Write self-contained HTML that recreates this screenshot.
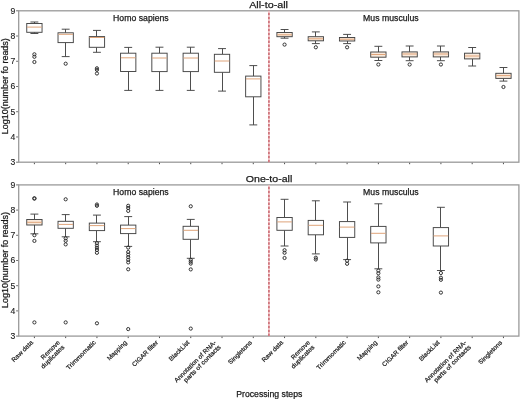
<!DOCTYPE html>
<html><head><meta charset="utf-8"><style>
html,body{margin:0;padding:0;background:#fff;width:520px;height:399px;overflow:hidden}
svg{display:block}
</style></head><body>
<svg width="520" height="399" viewBox="0 0 520 399">
<style>
text{font-family:"Liberation Sans",sans-serif;fill:#1a1a1a;stroke:#1a1a1a;stroke-width:0.25px}
.yt{font-size:8.6px;stroke-width:0.12px}
.xt{font-size:6.25px;stroke-width:0.2px}
.lab{font-size:8.3px}
.tit{font-size:9.95px}
</style>
<defs><filter id="gs" x="0" y="0" width="520" height="399" filterUnits="userSpaceOnUse" color-interpolation-filters="sRGB"><feColorMatrix type="saturate" values="0"/></filter></defs>
<rect width="520" height="399" fill="#fff"/>
<path d="M34.40 162.20v2.0" stroke="#222" stroke-width="0.8"/>
<path d="M65.67 162.20v2.0" stroke="#222" stroke-width="0.8"/>
<path d="M96.94 162.20v2.0" stroke="#222" stroke-width="0.8"/>
<path d="M128.21 162.20v2.0" stroke="#222" stroke-width="0.8"/>
<path d="M159.48 162.20v2.0" stroke="#222" stroke-width="0.8"/>
<path d="M190.75 162.20v2.0" stroke="#222" stroke-width="0.8"/>
<path d="M222.02 162.20v2.0" stroke="#222" stroke-width="0.8"/>
<path d="M253.29 162.20v2.0" stroke="#222" stroke-width="0.8"/>
<path d="M284.56 162.20v2.0" stroke="#222" stroke-width="0.8"/>
<path d="M315.83 162.20v2.0" stroke="#222" stroke-width="0.8"/>
<path d="M347.10 162.20v2.0" stroke="#222" stroke-width="0.8"/>
<path d="M378.37 162.20v2.0" stroke="#222" stroke-width="0.8"/>
<path d="M409.64 162.20v2.0" stroke="#222" stroke-width="0.8"/>
<path d="M440.91 162.20v2.0" stroke="#222" stroke-width="0.8"/>
<path d="M472.18 162.20v2.0" stroke="#222" stroke-width="0.8"/>
<path d="M503.45 162.20v2.0" stroke="#222" stroke-width="0.8"/>
<path d="M18.70 10.80h-2.6" stroke="#333" stroke-width="0.7"/>
<path d="M18.70 36.03h-2.6" stroke="#333" stroke-width="0.7"/>
<path d="M18.70 61.27h-2.6" stroke="#333" stroke-width="0.7"/>
<path d="M18.70 86.50h-2.6" stroke="#333" stroke-width="0.7"/>
<path d="M18.70 111.73h-2.6" stroke="#333" stroke-width="0.7"/>
<path d="M18.70 136.97h-2.6" stroke="#333" stroke-width="0.7"/>
<path d="M18.70 162.20h-2.6" stroke="#333" stroke-width="0.7"/>
<rect x="18.70" y="10.80" width="500.20" height="151.40" fill="none" stroke="#9a9a9a" stroke-width="1.3"/>
<path d="M34.40 336.10v2.0" stroke="#222" stroke-width="0.8"/>
<path d="M65.67 336.10v2.0" stroke="#222" stroke-width="0.8"/>
<path d="M96.94 336.10v2.0" stroke="#222" stroke-width="0.8"/>
<path d="M128.21 336.10v2.0" stroke="#222" stroke-width="0.8"/>
<path d="M159.48 336.10v2.0" stroke="#222" stroke-width="0.8"/>
<path d="M190.75 336.10v2.0" stroke="#222" stroke-width="0.8"/>
<path d="M222.02 336.10v2.0" stroke="#222" stroke-width="0.8"/>
<path d="M253.29 336.10v2.0" stroke="#222" stroke-width="0.8"/>
<path d="M284.56 336.10v2.0" stroke="#222" stroke-width="0.8"/>
<path d="M315.83 336.10v2.0" stroke="#222" stroke-width="0.8"/>
<path d="M347.10 336.10v2.0" stroke="#222" stroke-width="0.8"/>
<path d="M378.37 336.10v2.0" stroke="#222" stroke-width="0.8"/>
<path d="M409.64 336.10v2.0" stroke="#222" stroke-width="0.8"/>
<path d="M440.91 336.10v2.0" stroke="#222" stroke-width="0.8"/>
<path d="M472.18 336.10v2.0" stroke="#222" stroke-width="0.8"/>
<path d="M503.45 336.10v2.0" stroke="#222" stroke-width="0.8"/>
<path d="M18.70 184.90h-2.6" stroke="#333" stroke-width="0.7"/>
<path d="M18.70 210.10h-2.6" stroke="#333" stroke-width="0.7"/>
<path d="M18.70 235.30h-2.6" stroke="#333" stroke-width="0.7"/>
<path d="M18.70 260.50h-2.6" stroke="#333" stroke-width="0.7"/>
<path d="M18.70 285.70h-2.6" stroke="#333" stroke-width="0.7"/>
<path d="M18.70 310.90h-2.6" stroke="#333" stroke-width="0.7"/>
<path d="M18.70 336.10h-2.6" stroke="#333" stroke-width="0.7"/>
<rect x="18.70" y="184.90" width="500.20" height="151.20" fill="none" stroke="#9a9a9a" stroke-width="1.3"/>
<path d="M268.93 162.20V10.80" stroke="#f6d4d6" stroke-width="1.8"/><path d="M268.93 162.20V10.80" stroke="#c4555f" stroke-width="1.5" stroke-dasharray="2.5 1.47" opacity="0.9"/>
<path d="M268.93 336.10V184.90" stroke="#f6d4d6" stroke-width="1.8"/><path d="M268.93 336.10V184.90" stroke="#c4555f" stroke-width="1.5" stroke-dasharray="2.5 1.47" opacity="0.9"/>
<path d="M34.50 23.50V22.00M30.45 22.00H38.35M34.50 32.30V33.50M30.45 33.50H38.35" stroke="#444" stroke-width="0.95" fill="none"/>
<rect x="26.75" y="23.50" width="15.30" height="8.80" stroke="#444" stroke-width="0.95" fill="#fff"/>
<path d="M27.05 27.10H41.75" stroke="#dfa47a" stroke-width="1.0"/>
<circle cx="34.40" cy="54.30" r="1.6" stroke="#2a2a2a" stroke-width="0.95" fill="none"/>
<circle cx="34.40" cy="56.80" r="1.6" stroke="#2a2a2a" stroke-width="0.95" fill="none"/>
<circle cx="34.40" cy="62.00" r="1.6" stroke="#2a2a2a" stroke-width="0.95" fill="none"/>
<path d="M65.50 32.80V29.20M61.72 29.20H69.62M65.50 42.60V56.60M61.72 56.60H69.62" stroke="#444" stroke-width="0.95" fill="none"/>
<rect x="58.02" y="32.80" width="15.30" height="9.80" stroke="#444" stroke-width="0.95" fill="#fff"/>
<path d="M58.32 34.30H73.02" stroke="#dfa47a" stroke-width="1.0"/>
<circle cx="65.67" cy="63.70" r="1.6" stroke="#2a2a2a" stroke-width="0.95" fill="none"/>
<path d="M96.50 36.60V30.40M92.99 30.40H100.89M96.50 47.30V52.30M92.99 52.30H100.89" stroke="#444" stroke-width="0.95" fill="none"/>
<rect x="89.29" y="36.60" width="15.30" height="10.70" stroke="#444" stroke-width="0.95" fill="#fff"/>
<path d="M89.59 37.50H104.29" stroke="#dfa47a" stroke-width="1.0"/>
<circle cx="96.94" cy="68.30" r="1.6" stroke="#2a2a2a" stroke-width="0.95" fill="none"/>
<circle cx="96.94" cy="69.80" r="1.6" stroke="#2a2a2a" stroke-width="0.95" fill="none"/>
<circle cx="96.94" cy="73.50" r="1.6" stroke="#2a2a2a" stroke-width="0.95" fill="none"/>
<path d="M128.50 53.20V47.40M124.26 47.40H132.16M128.50 71.50V90.40M124.26 90.40H132.16" stroke="#444" stroke-width="0.95" fill="none"/>
<rect x="120.56" y="53.20" width="15.30" height="18.30" stroke="#444" stroke-width="0.95" fill="#fff"/>
<path d="M120.86 57.80H135.56" stroke="#dfa47a" stroke-width="1.0"/>
<path d="M159.50 53.20V47.20M155.53 47.20H163.43M159.50 71.60V90.40M155.53 90.40H163.43" stroke="#444" stroke-width="0.95" fill="none"/>
<rect x="151.83" y="53.20" width="15.30" height="18.40" stroke="#444" stroke-width="0.95" fill="#fff"/>
<path d="M152.13 58.00H166.83" stroke="#dfa47a" stroke-width="1.0"/>
<path d="M190.50 53.20V47.20M186.80 47.20H194.70M190.50 71.60V90.40M186.80 90.40H194.70" stroke="#444" stroke-width="0.95" fill="none"/>
<rect x="183.10" y="53.20" width="15.30" height="18.40" stroke="#444" stroke-width="0.95" fill="#fff"/>
<path d="M183.40 58.00H198.10" stroke="#dfa47a" stroke-width="1.0"/>
<path d="M222.50 54.30V48.60M218.07 48.60H225.97M222.50 72.30V91.10M218.07 91.10H225.97" stroke="#444" stroke-width="0.95" fill="none"/>
<rect x="214.37" y="54.30" width="15.30" height="18.00" stroke="#444" stroke-width="0.95" fill="#fff"/>
<path d="M214.67 61.00H229.37" stroke="#dfa47a" stroke-width="1.0"/>
<path d="M253.50 76.10V65.60M249.34 65.60H257.24M253.50 96.80V124.90M249.34 124.90H257.24" stroke="#444" stroke-width="0.95" fill="none"/>
<rect x="245.64" y="76.10" width="15.30" height="20.70" stroke="#444" stroke-width="0.95" fill="#fff"/>
<path d="M245.94 78.90H260.64" stroke="#dfa47a" stroke-width="1.0"/>
<path d="M284.50 32.50V29.50M280.61 29.50H288.51M284.50 36.70V38.20M280.61 38.20H288.51" stroke="#444" stroke-width="0.95" fill="none"/>
<rect x="276.91" y="32.50" width="15.30" height="4.20" stroke="#444" stroke-width="0.95" fill="#faeadc"/>
<path d="M277.21 34.80H291.91" stroke="#dfa47a" stroke-width="1.0"/>
<circle cx="284.56" cy="44.60" r="1.6" stroke="#2a2a2a" stroke-width="0.95" fill="none"/>
<path d="M315.50 36.70V31.90M311.88 31.90H319.78M315.50 40.80V43.60M311.88 43.60H319.78" stroke="#444" stroke-width="0.95" fill="none"/>
<rect x="308.18" y="36.70" width="15.30" height="4.10" stroke="#444" stroke-width="0.95" fill="#faeadc"/>
<path d="M308.48 38.80H323.18" stroke="#dfa47a" stroke-width="1.0"/>
<circle cx="315.83" cy="47.30" r="1.6" stroke="#2a2a2a" stroke-width="0.95" fill="none"/>
<path d="M347.50 37.50V34.40M343.15 34.40H351.05M347.50 41.00V43.60M343.15 43.60H351.05" stroke="#444" stroke-width="0.95" fill="none"/>
<rect x="339.45" y="37.50" width="15.30" height="3.50" stroke="#444" stroke-width="0.95" fill="#faeadc"/>
<path d="M339.75 39.20H354.45" stroke="#dfa47a" stroke-width="1.0"/>
<circle cx="347.10" cy="47.30" r="1.6" stroke="#2a2a2a" stroke-width="0.95" fill="none"/>
<path d="M378.50 52.00V46.30M374.42 46.30H382.32M378.50 57.20V60.50M374.42 60.50H382.32" stroke="#444" stroke-width="0.95" fill="none"/>
<rect x="370.72" y="52.00" width="15.30" height="5.20" stroke="#444" stroke-width="0.95" fill="#faeadc"/>
<path d="M371.02 54.50H385.72" stroke="#dfa47a" stroke-width="1.0"/>
<circle cx="378.37" cy="64.50" r="1.6" stroke="#2a2a2a" stroke-width="0.95" fill="none"/>
<path d="M409.50 51.90V46.00M405.69 46.00H413.59M409.50 56.90V60.70M405.69 60.70H413.59" stroke="#444" stroke-width="0.95" fill="none"/>
<rect x="401.99" y="51.90" width="15.30" height="5.00" stroke="#444" stroke-width="0.95" fill="#faeadc"/>
<path d="M402.29 54.00H416.99" stroke="#dfa47a" stroke-width="1.0"/>
<circle cx="409.64" cy="64.50" r="1.6" stroke="#2a2a2a" stroke-width="0.95" fill="none"/>
<path d="M440.50 51.90V46.00M436.96 46.00H444.86M440.50 56.90V60.70M436.96 60.70H444.86" stroke="#444" stroke-width="0.95" fill="none"/>
<rect x="433.26" y="51.90" width="15.30" height="5.00" stroke="#444" stroke-width="0.95" fill="#faeadc"/>
<path d="M433.56 54.00H448.26" stroke="#dfa47a" stroke-width="1.0"/>
<circle cx="440.91" cy="64.50" r="1.6" stroke="#2a2a2a" stroke-width="0.95" fill="none"/>
<path d="M472.50 53.20V47.50M468.23 47.50H476.13M472.50 58.90V66.00M468.23 66.00H476.13" stroke="#444" stroke-width="0.95" fill="none"/>
<rect x="464.53" y="53.20" width="15.30" height="5.70" stroke="#444" stroke-width="0.95" fill="#faeadc"/>
<path d="M464.83 56.00H479.53" stroke="#dfa47a" stroke-width="1.0"/>
<path d="M503.50 73.30V67.50M499.50 67.50H507.40M503.50 78.40V81.10M499.50 81.10H507.40" stroke="#444" stroke-width="0.95" fill="none"/>
<rect x="495.80" y="73.30" width="15.30" height="5.10" stroke="#444" stroke-width="0.95" fill="#faeadc"/>
<path d="M496.10 75.60H510.80" stroke="#dfa47a" stroke-width="1.0"/>
<circle cx="503.45" cy="87.00" r="1.6" stroke="#2a2a2a" stroke-width="0.95" fill="none"/>
<path d="M34.50 219.50V214.10M30.45 214.10H38.35M34.50 225.00V233.80M30.45 233.80H38.35" stroke="#444" stroke-width="0.95" fill="none"/>
<rect x="26.75" y="219.50" width="15.30" height="5.50" stroke="#444" stroke-width="0.95" fill="#faeadc"/>
<path d="M27.05 222.30H41.75" stroke="#dfa47a" stroke-width="1.0"/>
<circle cx="34.40" cy="198.20" r="1.6" stroke="#2a2a2a" stroke-width="0.95" fill="none"/>
<circle cx="34.40" cy="198.70" r="1.6" stroke="#2a2a2a" stroke-width="0.95" fill="none"/>
<circle cx="34.40" cy="235.20" r="1.6" stroke="#2a2a2a" stroke-width="0.95" fill="none"/>
<circle cx="34.40" cy="240.90" r="1.6" stroke="#2a2a2a" stroke-width="0.95" fill="none"/>
<circle cx="34.40" cy="322.40" r="1.6" stroke="#2a2a2a" stroke-width="0.95" fill="none"/>
<path d="M65.50 221.30V214.60M61.72 214.60H69.62M65.50 228.30V236.80M61.72 236.80H69.62" stroke="#444" stroke-width="0.95" fill="none"/>
<rect x="58.02" y="221.30" width="15.30" height="7.00" stroke="#444" stroke-width="0.95" fill="#fff"/>
<path d="M58.32 224.40H73.02" stroke="#dfa47a" stroke-width="1.0"/>
<circle cx="65.67" cy="199.30" r="1.6" stroke="#2a2a2a" stroke-width="0.95" fill="none"/>
<circle cx="65.67" cy="238.30" r="1.6" stroke="#2a2a2a" stroke-width="0.95" fill="none"/>
<circle cx="65.67" cy="240.80" r="1.6" stroke="#2a2a2a" stroke-width="0.95" fill="none"/>
<circle cx="65.67" cy="244.40" r="1.6" stroke="#2a2a2a" stroke-width="0.95" fill="none"/>
<circle cx="65.67" cy="322.40" r="1.6" stroke="#2a2a2a" stroke-width="0.95" fill="none"/>
<path d="M96.50 223.10V215.10M92.99 215.10H100.89M96.50 230.60V241.70M92.99 241.70H100.89" stroke="#444" stroke-width="0.95" fill="none"/>
<rect x="89.29" y="223.10" width="15.30" height="7.50" stroke="#444" stroke-width="0.95" fill="#fff"/>
<path d="M89.59 225.60H104.29" stroke="#dfa47a" stroke-width="1.0"/>
<circle cx="96.94" cy="204.50" r="1.6" stroke="#2a2a2a" stroke-width="0.95" fill="none"/>
<circle cx="96.94" cy="205.80" r="1.6" stroke="#2a2a2a" stroke-width="0.95" fill="none"/>
<circle cx="96.94" cy="243.20" r="1.6" stroke="#2a2a2a" stroke-width="0.95" fill="none"/>
<circle cx="96.94" cy="245.60" r="1.6" stroke="#2a2a2a" stroke-width="0.95" fill="none"/>
<circle cx="96.94" cy="247.80" r="1.6" stroke="#2a2a2a" stroke-width="0.95" fill="none"/>
<circle cx="96.94" cy="250.00" r="1.6" stroke="#2a2a2a" stroke-width="0.95" fill="none"/>
<circle cx="96.94" cy="252.80" r="1.6" stroke="#2a2a2a" stroke-width="0.95" fill="none"/>
<circle cx="96.94" cy="323.30" r="1.6" stroke="#2a2a2a" stroke-width="0.95" fill="none"/>
<path d="M128.50 225.10V216.60M124.26 216.60H132.16M128.50 233.60V246.40M124.26 246.40H132.16" stroke="#444" stroke-width="0.95" fill="none"/>
<rect x="120.56" y="225.10" width="15.30" height="8.50" stroke="#444" stroke-width="0.95" fill="#fff"/>
<path d="M120.86 228.60H135.56" stroke="#dfa47a" stroke-width="1.0"/>
<circle cx="128.21" cy="205.80" r="1.6" stroke="#2a2a2a" stroke-width="0.95" fill="none"/>
<circle cx="128.21" cy="208.00" r="1.6" stroke="#2a2a2a" stroke-width="0.95" fill="none"/>
<circle cx="128.21" cy="210.90" r="1.6" stroke="#2a2a2a" stroke-width="0.95" fill="none"/>
<circle cx="128.21" cy="247.60" r="1.6" stroke="#2a2a2a" stroke-width="0.95" fill="none"/>
<circle cx="128.21" cy="252.00" r="1.6" stroke="#2a2a2a" stroke-width="0.95" fill="none"/>
<circle cx="128.21" cy="254.60" r="1.6" stroke="#2a2a2a" stroke-width="0.95" fill="none"/>
<circle cx="128.21" cy="257.20" r="1.6" stroke="#2a2a2a" stroke-width="0.95" fill="none"/>
<circle cx="128.21" cy="259.80" r="1.6" stroke="#2a2a2a" stroke-width="0.95" fill="none"/>
<circle cx="128.21" cy="262.40" r="1.6" stroke="#2a2a2a" stroke-width="0.95" fill="none"/>
<circle cx="128.21" cy="269.30" r="1.6" stroke="#2a2a2a" stroke-width="0.95" fill="none"/>
<circle cx="128.21" cy="329.10" r="1.6" stroke="#2a2a2a" stroke-width="0.95" fill="none"/>
<path d="M190.50 226.30V219.40M186.80 219.40H194.70M190.50 239.30V258.30M186.80 258.30H194.70" stroke="#444" stroke-width="0.95" fill="none"/>
<rect x="183.10" y="226.30" width="15.30" height="13.00" stroke="#444" stroke-width="0.95" fill="#fff"/>
<path d="M183.40 230.30H198.10" stroke="#dfa47a" stroke-width="1.0"/>
<circle cx="190.75" cy="206.30" r="1.6" stroke="#2a2a2a" stroke-width="0.95" fill="none"/>
<circle cx="190.75" cy="259.80" r="1.6" stroke="#2a2a2a" stroke-width="0.95" fill="none"/>
<circle cx="190.75" cy="261.70" r="1.6" stroke="#2a2a2a" stroke-width="0.95" fill="none"/>
<circle cx="190.75" cy="263.60" r="1.6" stroke="#2a2a2a" stroke-width="0.95" fill="none"/>
<circle cx="190.75" cy="269.40" r="1.6" stroke="#2a2a2a" stroke-width="0.95" fill="none"/>
<circle cx="190.75" cy="328.60" r="1.6" stroke="#2a2a2a" stroke-width="0.95" fill="none"/>
<path d="M284.50 217.50V199.30M280.61 199.30H288.51M284.50 230.30V246.00M280.61 246.00H288.51" stroke="#444" stroke-width="0.95" fill="none"/>
<rect x="276.91" y="217.50" width="15.30" height="12.80" stroke="#444" stroke-width="0.95" fill="#fff"/>
<path d="M277.21 221.90H291.91" stroke="#dfa47a" stroke-width="1.0"/>
<circle cx="284.56" cy="250.20" r="1.6" stroke="#2a2a2a" stroke-width="0.95" fill="none"/>
<circle cx="284.56" cy="252.80" r="1.6" stroke="#2a2a2a" stroke-width="0.95" fill="none"/>
<circle cx="284.56" cy="258.00" r="1.6" stroke="#2a2a2a" stroke-width="0.95" fill="none"/>
<path d="M315.50 220.40V200.80M311.88 200.80H319.78M315.50 234.80V253.90M311.88 253.90H319.78" stroke="#444" stroke-width="0.95" fill="none"/>
<rect x="308.18" y="220.40" width="15.30" height="14.40" stroke="#444" stroke-width="0.95" fill="#fff"/>
<path d="M308.48 225.30H323.18" stroke="#dfa47a" stroke-width="1.0"/>
<circle cx="315.83" cy="257.70" r="1.6" stroke="#2a2a2a" stroke-width="0.95" fill="none"/>
<circle cx="315.83" cy="259.50" r="1.6" stroke="#2a2a2a" stroke-width="0.95" fill="none"/>
<path d="M347.50 221.60V202.00M343.15 202.00H351.05M347.50 237.40V259.60M343.15 259.60H351.05" stroke="#444" stroke-width="0.95" fill="none"/>
<rect x="339.45" y="221.60" width="15.30" height="15.80" stroke="#444" stroke-width="0.95" fill="#fff"/>
<path d="M339.75 227.10H354.45" stroke="#dfa47a" stroke-width="1.0"/>
<circle cx="347.10" cy="260.70" r="1.6" stroke="#2a2a2a" stroke-width="0.95" fill="none"/>
<circle cx="347.10" cy="263.80" r="1.6" stroke="#2a2a2a" stroke-width="0.95" fill="none"/>
<path d="M378.50 226.40V203.80M374.42 203.80H382.32M378.50 242.90V268.80M374.42 268.80H382.32" stroke="#444" stroke-width="0.95" fill="none"/>
<rect x="370.72" y="226.40" width="15.30" height="16.50" stroke="#444" stroke-width="0.95" fill="#fff"/>
<path d="M371.02 233.30H385.72" stroke="#dfa47a" stroke-width="1.0"/>
<circle cx="378.37" cy="270.60" r="1.6" stroke="#2a2a2a" stroke-width="0.95" fill="none"/>
<circle cx="378.37" cy="273.30" r="1.6" stroke="#2a2a2a" stroke-width="0.95" fill="none"/>
<circle cx="378.37" cy="277.40" r="1.6" stroke="#2a2a2a" stroke-width="0.95" fill="none"/>
<circle cx="378.37" cy="279.60" r="1.6" stroke="#2a2a2a" stroke-width="0.95" fill="none"/>
<circle cx="378.37" cy="286.40" r="1.6" stroke="#2a2a2a" stroke-width="0.95" fill="none"/>
<circle cx="378.37" cy="292.30" r="1.6" stroke="#2a2a2a" stroke-width="0.95" fill="none"/>
<path d="M440.50 227.60V207.30M436.96 207.30H444.86M440.50 246.00V270.50M436.96 270.50H444.86" stroke="#444" stroke-width="0.95" fill="none"/>
<rect x="433.26" y="227.60" width="15.30" height="18.40" stroke="#444" stroke-width="0.95" fill="#fff"/>
<path d="M433.56 235.90H448.26" stroke="#dfa47a" stroke-width="1.0"/>
<circle cx="440.91" cy="273.00" r="1.6" stroke="#2a2a2a" stroke-width="0.95" fill="none"/>
<circle cx="440.91" cy="277.70" r="1.6" stroke="#2a2a2a" stroke-width="0.95" fill="none"/>
<circle cx="440.91" cy="279.80" r="1.6" stroke="#2a2a2a" stroke-width="0.95" fill="none"/>
<circle cx="440.91" cy="292.60" r="1.6" stroke="#2a2a2a" stroke-width="0.95" fill="none"/>
<g filter="url(#gs)">
<text x="15.3" y="13.75" text-anchor="end" class="yt">9</text><text x="15.3" y="38.98" text-anchor="end" class="yt">8</text><text x="15.3" y="64.22" text-anchor="end" class="yt">7</text><text x="15.3" y="89.45" text-anchor="end" class="yt">6</text><text x="15.3" y="114.68" text-anchor="end" class="yt">5</text><text x="15.3" y="139.91" text-anchor="end" class="yt">4</text><text x="15.3" y="165.15" text-anchor="end" class="yt">3</text><text x="15.3" y="187.85" text-anchor="end" class="yt">9</text><text x="15.3" y="213.05" text-anchor="end" class="yt">8</text><text x="15.3" y="238.25" text-anchor="end" class="yt">7</text><text x="15.3" y="263.45" text-anchor="end" class="yt">6</text><text x="15.3" y="288.65" text-anchor="end" class="yt">5</text><text x="15.3" y="313.85" text-anchor="end" class="yt">4</text><text x="15.3" y="339.05" text-anchor="end" class="yt">3</text>
<text x="113.1" y="21.1" class="lab" textLength="55.6" lengthAdjust="spacingAndGlyphs">Homo sapiens</text>
<text x="363.1" y="21.1" class="lab" textLength="55.6" lengthAdjust="spacingAndGlyphs">Mus musculus</text>
<text x="113.1" y="195.0" class="lab" textLength="55.6" lengthAdjust="spacingAndGlyphs">Homo sapiens</text>
<text x="363.1" y="195.0" class="lab" textLength="55.6" lengthAdjust="spacingAndGlyphs">Mus musculus</text>
<text x="249.2" y="7.8" class="tit" textLength="38.8" lengthAdjust="spacingAndGlyphs">All-to-all</text>
<text x="245.8" y="182.0" class="tit" textLength="46.5" lengthAdjust="spacingAndGlyphs">One-to-all</text>
<text transform="translate(7.6 134.2) rotate(-90)" class="lab" textLength="96" lengthAdjust="spacingAndGlyphs">Log10(number fo reads)</text>
<text transform="translate(7.6 308.0) rotate(-90)" class="lab" textLength="96" lengthAdjust="spacingAndGlyphs">Log10(number fo reads)</text>
<text x="236.3" y="396.9" class="lab" textLength="66" lengthAdjust="spacingAndGlyphs">Processing steps</text>
<text transform="translate(33.53 342.97) rotate(-45)" text-anchor="end" class="xt" textLength="27.58" lengthAdjust="spacingAndGlyphs">Raw data</text>
<text transform="translate(60.28 342.97) rotate(-45)" text-anchor="end" class="xt" textLength="23.94" lengthAdjust="spacingAndGlyphs">Remove</text>
<text transform="translate(64.80 347.50) rotate(-45)" text-anchor="end" class="xt" textLength="30.38" lengthAdjust="spacingAndGlyphs">duplicates</text>
<text transform="translate(96.07 342.97) rotate(-45)" text-anchor="end" class="xt" textLength="38.47" lengthAdjust="spacingAndGlyphs">Trimmomatic</text>
<text transform="translate(127.34 342.97) rotate(-45)" text-anchor="end" class="xt" textLength="25.32" lengthAdjust="spacingAndGlyphs">Mapping</text>
<text transform="translate(158.61 342.97) rotate(-45)" text-anchor="end" class="xt" textLength="34.17" lengthAdjust="spacingAndGlyphs">CIGAR filter</text>
<text transform="translate(189.88 342.97) rotate(-45)" text-anchor="end" class="xt" textLength="26.28" lengthAdjust="spacingAndGlyphs">BlackList</text>
<text transform="translate(216.63 342.97) rotate(-45)" text-anchor="end" class="xt" textLength="56.34" lengthAdjust="spacingAndGlyphs">Annotation of RNA-</text>
<text transform="translate(221.15 347.50) rotate(-45)" text-anchor="end" class="xt" textLength="49.76" lengthAdjust="spacingAndGlyphs">parts of contacts</text>
<text transform="translate(252.42 342.97) rotate(-45)" text-anchor="end" class="xt" textLength="30.87" lengthAdjust="spacingAndGlyphs">Singletons</text>
<text transform="translate(283.69 342.97) rotate(-45)" text-anchor="end" class="xt" textLength="27.58" lengthAdjust="spacingAndGlyphs">Raw data</text>
<text transform="translate(310.44 342.97) rotate(-45)" text-anchor="end" class="xt" textLength="23.94" lengthAdjust="spacingAndGlyphs">Remove</text>
<text transform="translate(314.96 347.50) rotate(-45)" text-anchor="end" class="xt" textLength="30.38" lengthAdjust="spacingAndGlyphs">duplicates</text>
<text transform="translate(346.23 342.97) rotate(-45)" text-anchor="end" class="xt" textLength="38.47" lengthAdjust="spacingAndGlyphs">Trimmomatic</text>
<text transform="translate(377.50 342.97) rotate(-45)" text-anchor="end" class="xt" textLength="25.32" lengthAdjust="spacingAndGlyphs">Mapping</text>
<text transform="translate(408.77 342.97) rotate(-45)" text-anchor="end" class="xt" textLength="34.17" lengthAdjust="spacingAndGlyphs">CIGAR filter</text>
<text transform="translate(440.04 342.97) rotate(-45)" text-anchor="end" class="xt" textLength="26.28" lengthAdjust="spacingAndGlyphs">BlackList</text>
<text transform="translate(466.79 342.97) rotate(-45)" text-anchor="end" class="xt" textLength="56.34" lengthAdjust="spacingAndGlyphs">Annotation of RNA-</text>
<text transform="translate(471.31 347.50) rotate(-45)" text-anchor="end" class="xt" textLength="49.76" lengthAdjust="spacingAndGlyphs">parts of contacts</text>
<text transform="translate(502.58 342.97) rotate(-45)" text-anchor="end" class="xt" textLength="30.87" lengthAdjust="spacingAndGlyphs">Singletons</text>
</g>
</svg>
</body></html>
